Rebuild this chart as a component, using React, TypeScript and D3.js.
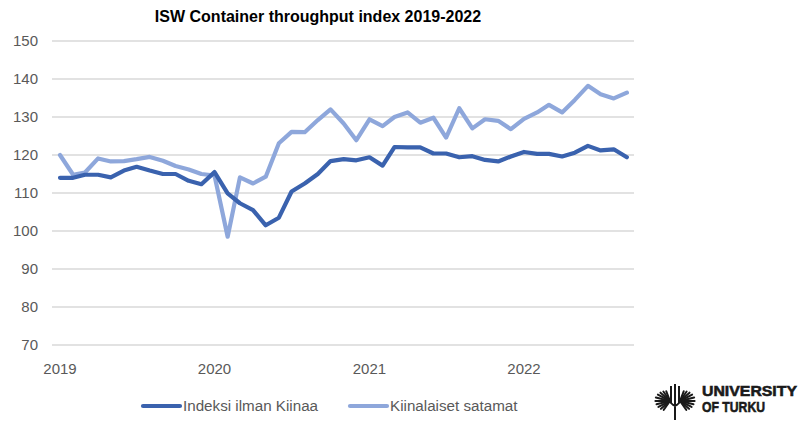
import React, { useEffect, useRef } from 'react';
import * as d3 from 'd3';

// monthly values, Jan 2019 - Sep 2022
const months = d3.timeMonths(new Date(2019, 0, 1), new Date(2022, 9, 1));
const ilmanKiinaa = [
  114.0, 114.0, 114.8, 114.8, 114.1, 115.9, 116.9, 115.9, 115.0, 115.0, 113.2, 112.3,
  115.5, 109.9, 107.3, 105.5, 101.5, 103.5, 110.4, 112.5, 115.0, 118.4, 118.9, 118.6,
  119.4, 117.2, 122.1, 122.0, 122.0, 120.4, 120.4, 119.4, 119.7, 118.7, 118.3, 119.6,
  120.8, 120.3, 120.3, 119.6, 120.6, 122.4, 121.2, 121.5, 119.4,
];
const kiinalaiset = [
  120.0, 114.8, 115.4, 119.1, 118.3, 118.4, 118.9, 119.5, 118.5, 117.1, 116.2, 115.0,
  114.6, 98.5, 114.1, 112.5, 114.3, 123.1, 126.1, 126.0, 129.2, 132.0, 128.3, 123.9,
  129.4, 127.6, 130.0, 131.2, 128.5, 129.8, 124.6, 132.3, 127.0, 129.4, 129.0, 126.8,
  129.5, 131.2, 133.2, 131.2, 134.5, 138.2, 136.0, 134.9, 136.4,
];
const yTicks = [70, 80, 90, 100, 110, 120, 130, 140, 150];
const xTicks = [2019, 2020, 2021, 2022];
const seriesNames = ['Indeksi ilman Kiinaa', 'Kiinalaiset satamat'];
const seriesColors = ['#3A62AE', '#8EA7DB'];

const App = () => {
  const svgRef = useRef<SVGSVGElement>(null);

  useEffect(() => {
    document.body.style.margin = '0';
    const svg = d3.select(svgRef.current);
    svg.selectAll('*').remove();

    const width = 799;
    const height = 421;
    svg.attr('width', width).attr('height', height);

    const x = d3.scaleTime()
      .domain([new Date(2019, 0, 1), new Date(2022, 0, 1)])
      .range([60, 524]);
    const y = d3.scaleLinear().domain([70, 150]).range([345, 41]);

    const font = '"Liberation Sans", Arial, sans-serif';

    // gridlines
    svg.append('g')
      .selectAll('line')
      .data(yTicks)
      .enter()
      .append('line')
      .attr('x1', 52)
      .attr('x2', 634)
      .attr('y1', d => y(d))
      .attr('y2', d => y(d))
      .attr('stroke', '#d9d9d9')
      .attr('stroke-width', 1.3);

    svg.append('g')
      .selectAll('text')
      .data(yTicks)
      .enter()
      .append('text')
      .attr('x', 38)
      .attr('y', d => y(d))
      .attr('dy', '0.35em')
      .attr('text-anchor', 'end')
      .attr('font-family', font)
      .attr('font-size', 15)
      .attr('fill', '#595959')
      .text(d => d);

    svg.append('g')
      .selectAll('text')
      .data(xTicks)
      .enter()
      .append('text')
      .attr('x', d => x(new Date(d, 0, 1)))
      .attr('y', 374)
      .attr('text-anchor', 'middle')
      .attr('font-family', font)
      .attr('font-size', 15)
      .attr('fill', '#595959')
      .text(d => d);

    const line = d3.line<number>()
      .x((d, i) => x(months[i]))
      .y(d => y(d));

    [ilmanKiinaa, kiinalaiset].slice().reverse().forEach((s, k) => {
      const idx = 1 - k;
      svg.append('path')
        .datum(s)
        .attr('d', line)
        .attr('fill', 'none')
        .attr('stroke', seriesColors[idx])
        .attr('stroke-width', 4.2)
        .attr('stroke-linejoin', 'round')
        .attr('stroke-linecap', 'round');
    });

    // title
    svg.append('text')
      .attr('x', 318)
      .attr('y', 22)
      .attr('text-anchor', 'middle')
      .attr('font-family', font)
      .attr('font-size', 16)
      .attr('font-weight', 'bold')
      .attr('fill', '#000')
      .text('ISW Container throughput index 2019-2022');

    // legend
    const legendX = [143, 350];
    seriesNames.forEach((name, i) => {
      const g = svg.append('g').attr('transform', `translate(${legendX[i]},406)`);
      g.append('line')
        .attr('x1', 0).attr('x2', 37)
        .attr('stroke', seriesColors[i])
        .attr('stroke-width', 4.2)
        .attr('stroke-linecap', 'round');
      g.append('text')
        .attr('x', 40)
        .attr('dy', '0.35em')
        .attr('font-family', font)
        .attr('font-size', 15.2)
        .attr('fill', '#595959')
        .text(name);
    });

    // University of Turku logo
    const logo = svg.append('g').attr('transform', 'translate(675,398)');
    const wing = (side: number) => {
      for (let j = 0; j < 10; j++) {
        const a = (-80 + j * 16) * Math.PI / 180;
        const r = 13 - Math.abs(j - 4.5) * 0.7;
        logo.append('line')
          .attr('x1', side * 5)
          .attr('y1', 3)
          .attr('x2', side * (5 + r * Math.cos(a) + 2))
          .attr('y2', 3 + r * Math.sin(a))
          .attr('stroke', '#1a1a1a')
          .attr('stroke-width', 2)
          .attr('stroke-linecap', 'round');
      }
    };
    wing(-1);
    wing(1);
    logo.append('path')
      .attr('d', 'M-4,-12 L-4,5 Q0,10 4,5 L4,-12 M0,-14 L0,22')
      .attr('fill', 'none')
      .attr('stroke', '#1a1a1a')
      .attr('stroke-width', 2);

    const logoText = [
      { t: 'UNIVERSITY', y: 396, len: 95 },
      { t: 'OF TURKU', y: 411.5, len: 63 },
    ];
    logoText.forEach(d => {
      svg.append('text')
        .attr('x', 702)
        .attr('y', d.y)
        .attr('font-family', font)
        .attr('font-size', 15.5)
        .attr('font-weight', 'bold')
        .attr('fill', '#1a1a1a')
        .attr('stroke', '#1a1a1a')
        .attr('stroke-width', 0.6)
        .attr('textLength', d.len)
        .attr('lengthAdjust', 'spacingAndGlyphs')
        .text(d.t);
    });
  }, []);

  return (
    <div style={{ position: 'absolute', left: 0, top: 0, background: '#fff' }}>
      <svg ref={svgRef} style={{ display: 'block' }}></svg>
    </div>
  );
};

export default App;
